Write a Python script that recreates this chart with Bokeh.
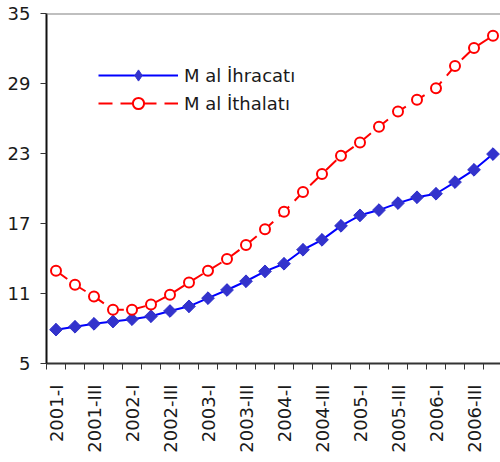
import math
from bokeh.plotting import figure
from bokeh.models import FixedTicker, Legend, LegendItem, Span, Range1d
from bokeh.embed import file_html
from bokeh.resources import INLINE

quarters = ["2001-I", "2001-II", "2001-III", "2001-IV",
            "2002-I", "2002-II", "2002-III", "2002-IV",
            "2003-I", "2003-II", "2003-III", "2003-IV",
            "2004-I", "2004-II", "2004-III", "2004-IV",
            "2005-I", "2005-II", "2005-III", "2005-IV",
            "2006-I", "2006-II", "2006-III", "2006-IV"]
exports = [7.9, 8.15, 8.4, 8.6, 8.8, 9.05, 9.5, 9.9, 10.6, 11.3, 12.05, 12.9,
           13.55, 14.75, 15.6, 16.8, 17.7, 18.15, 18.75, 19.25, 19.55, 20.55, 21.6, 22.95]
imports = [12.95, 11.75, 10.75, 9.6, 9.6, 10.05, 10.9, 11.95, 12.95, 13.95, 15.15, 16.5,
           18.0, 19.7, 21.25, 22.8, 23.95, 25.3, 26.6, 27.6, 28.6, 30.5, 32.05, 33.1]
y_ticks = [5, 11, 17, 23, 29, 35]
series_names = ["M al İhracatı", "M al İthalatı"]

FONT = "DejaVu Sans"
TXT = "#1a1a1a"

xs = list(range(len(quarters)))

p = figure(width=500, height=462, output_backend="svg", toolbar_location=None,
           x_range=Range1d(-0.5, -0.5 + 454 / 19.0), y_range=Range1d(5, 35),
           min_border_left=46, min_border_right=0, min_border_top=13, min_border_bottom=99)
p.outline_line_color = None
p.grid.visible = False
p.background_fill_color = "white"
p.border_fill_color = "white"

# export line
l1 = p.line(xs, exports, line_color="#0000FF", line_width=2)
# diamond glyph used for the legend (fully covered by the rotated squares below)
s1_leg = p.scatter(xs, exports, marker="diamond", size=12,
                   fill_color="#3333CC", line_color="#3333CC", line_width=1)
s1 = p.scatter(xs, exports, marker="square", angle=math.pi / 4, size=9,
               fill_color="#3333CC", line_color="#3333CC")
# import line
l2 = p.line(xs, imports, line_color="#FF0000", line_width=2, line_dash="14 8")
s2 = p.scatter(xs, imports, marker="circle", size=10, fill_color="white",
               line_color="#FF0000", line_width=2)

# x axis
xa = p.xaxis[0]
major = [i for i in xs if i % 2 == 0]
xa.ticker = FixedTicker(ticks=major, minor_ticks=[i - 0.5 for i in range(len(quarters) + 1)])
xa.major_label_overrides = {i: quarters[i] for i in major}
xa.major_label_orientation = math.pi / 2
xa.major_tick_out = 0
xa.major_tick_in = 0
xa.minor_tick_out = 6
xa.minor_tick_in = 0
xa.minor_tick_line_color = "#333333"
xa.axis_line_color = "#333333"
xa.axis_line_width = 2
xa.major_label_text_font = FONT
xa.major_label_text_font_size = "18px"
xa.major_label_text_color = TXT
xa.major_label_standoff = 15

# y axis
ya = p.yaxis[0]
ya.ticker = FixedTicker(ticks=y_ticks)
ya.major_tick_out = 6
ya.major_tick_in = 0
ya.minor_tick_line_color = None
ya.major_tick_line_color = "#333333"
ya.axis_line_color = "#111111"
ya.axis_line_width = 2
ya.major_label_text_font = FONT
ya.major_label_text_font_size = "18px"
ya.major_label_text_color = TXT
ya.major_label_standoff = 10

# top border line
p.add_layout(Span(location=35, dimension="width", line_color="#808080", line_width=2))

legend = Legend(items=[LegendItem(label=series_names[0], renderers=[l1, s1_leg]),
                       LegendItem(label=series_names[1], renderers=[l2, s2])],
                location=(52, 246), orientation="vertical")
legend.glyph_width = 80
legend.glyph_height = 28
legend.label_height = 28
legend.spacing = 0
legend.padding = 0
legend.margin = 0
legend.label_standoff = 6
legend.border_line_color = None
legend.background_fill_alpha = 0
legend.label_text_font = FONT
legend.label_text_font_size = "18px"
legend.label_text_color = TXT
p.add_layout(legend)

open("out.html", "w").write(file_html(p, INLINE))
